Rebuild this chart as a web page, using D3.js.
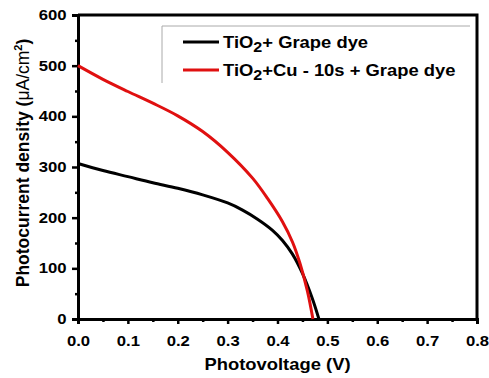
<!DOCTYPE html>
<html>
<head>
<meta charset="utf-8">
<script src="https://cdn.jsdelivr.net/npm/d3@7"></script>
<style>
  body { margin: 0; background: #fff; }
  text { font-family: "Liberation Sans", Arial, sans-serif; font-weight: bold; }
</style>
</head>
<body>
<div id="chart"></div>
<script>
// photovoltage (V) vs photocurrent density (uA/cm2)
var blackV = [0, 0.05, 0.1, 0.15, 0.2, 0.25, 0.3, 0.33, 0.36, 0.39, 0.41, 0.43, 0.45, 0.47, 0.483];
var blackJ = [307, 293, 281, 269, 258, 245, 229, 215, 197, 175, 155, 128, 90, 40, 0];
var redV = [0, 0.05, 0.1, 0.15, 0.2, 0.25, 0.3, 0.35, 0.38, 0.41, 0.43, 0.445, 0.46, 0.471];
var redJ = [500, 473, 449, 426, 401, 370, 329, 278, 238, 192, 152, 110, 55, 0];
var xTicks = [0, 0.1, 0.2, 0.3, 0.4, 0.5, 0.6, 0.7, 0.8];
var yTicks = [0, 100, 200, 300, 400, 500, 600];
var seriesNames = ["TiO2+ Grape dye", "TiO2+Cu - 10s + Grape dye"];
var seriesColors = ["#000000", "#e01010"];

var W = 489, H = 378;
var m = {left: 78, right: 12, top: 15, bottom: 59};
var SX = 1.15; // text in the picture is stretched sideways

var svg = d3.select("#chart").append("svg")
    .attr("width", W).attr("height", H);

var x = d3.scaleLinear().domain([0, 0.8]).range([m.left, W - m.right]);
var y = d3.scaleLinear().domain([0, 600]).range([H - m.bottom, m.top]);

// minor ticks
var xMinor = d3.range(0.05, 0.8, 0.1);
var yMinor = d3.range(50, 600, 100);

svg.append("g")
    .attr("transform", "translate(0," + y(0) + ")")
    .call(d3.axisBottom(x).tickValues(xTicks).tickFormat(d3.format(".1f")).tickSize(5).tickPadding(12));
svg.append("g")
    .attr("transform", "translate(0," + y(0) + ")")
    .call(d3.axisBottom(x).tickValues(xMinor).tickFormat("").tickSize(3))
    .call(function(g) { g.select(".domain").remove(); });

svg.append("g")
    .attr("transform", "translate(" + x(0) + ",0)")
    .call(d3.axisLeft(y).tickValues(yTicks).tickSize(6).tickPadding(4));
svg.append("g")
    .attr("transform", "translate(" + x(0) + ",0)")
    .call(d3.axisLeft(y).tickValues(yMinor).tickFormat("").tickSize(3))
    .call(function(g) { g.select(".domain").remove(); });

svg.selectAll(".domain").attr("stroke-width", 3);
svg.selectAll(".tick line").attr("stroke-width", 2.5);
svg.selectAll(".tick text").attr("font-size", 14.5).attr("fill", "#000")
    .attr("transform", "scale(" + SX + ",1)");

// frame top + right
svg.append("path")
    .attr("d", "M" + x(0) + "," + y(600) + "H" + x(0.8) + "V" + y(0))
    .attr("fill", "none").attr("stroke", "#000").attr("stroke-width", 3);

// curves
var line = d3.line().curve(d3.curveCatmullRom.alpha(0.5));
var blackPts = blackV.map(function(v, i) { return [x(v), y(blackJ[i])]; });
var redPts = redV.map(function(v, i) { return [x(v), y(redJ[i])]; });

svg.append("path").attr("d", line(blackPts))
    .attr("fill", "none").attr("stroke", seriesColors[0]).attr("stroke-width", 3);
svg.append("path").attr("d", line(redPts))
    .attr("fill", "none").attr("stroke", seriesColors[1]).attr("stroke-width", 3);

// legend (open box: top and left border only)
var lg = svg.append("g");
lg.append("path").attr("d", "M162,83V26H470")
    .attr("fill", "none").attr("stroke", "#aaa").attr("stroke-width", 1);
seriesNames.forEach(function(name, i) {
    var ly = 42 + i * 28;
    lg.append("line").attr("x1", 183).attr("x2", 219).attr("y1", ly).attr("y2", ly)
        .attr("stroke", seriesColors[i]).attr("stroke-width", 3);
    var t = lg.append("text")
        .attr("transform", "translate(223," + (ly + 6) + ") scale(" + SX + ",1)")
        .attr("font-size", 16).attr("fill", "#000");
    t.append("tspan").text("TiO");
    t.append("tspan").attr("dy", 4).attr("font-size", 14).text("2");
    t.append("tspan").attr("dy", -4).text(name.slice(4));
});

// axis titles
svg.append("text")
    .attr("transform", "translate(" + ((x(0) + x(0.8)) / 2) + ",370) scale(" + SX + ",1)")
    .attr("text-anchor", "middle").attr("font-size", 16)
    .text("Photovoltage (V)");

var yt = svg.append("text")
    .attr("transform", "translate(29,163) rotate(-90)")
    .attr("text-anchor", "middle").attr("font-size", 17.5);
yt.append("tspan").text("Photocurrent density (");
yt.append("tspan").attr("font-weight", "normal").text("μA/cm");
yt.append("tspan").attr("dy", -7).attr("font-size", 11).text("2");
yt.append("tspan").attr("dy", 7).text(")");
</script>
</body>
</html>
